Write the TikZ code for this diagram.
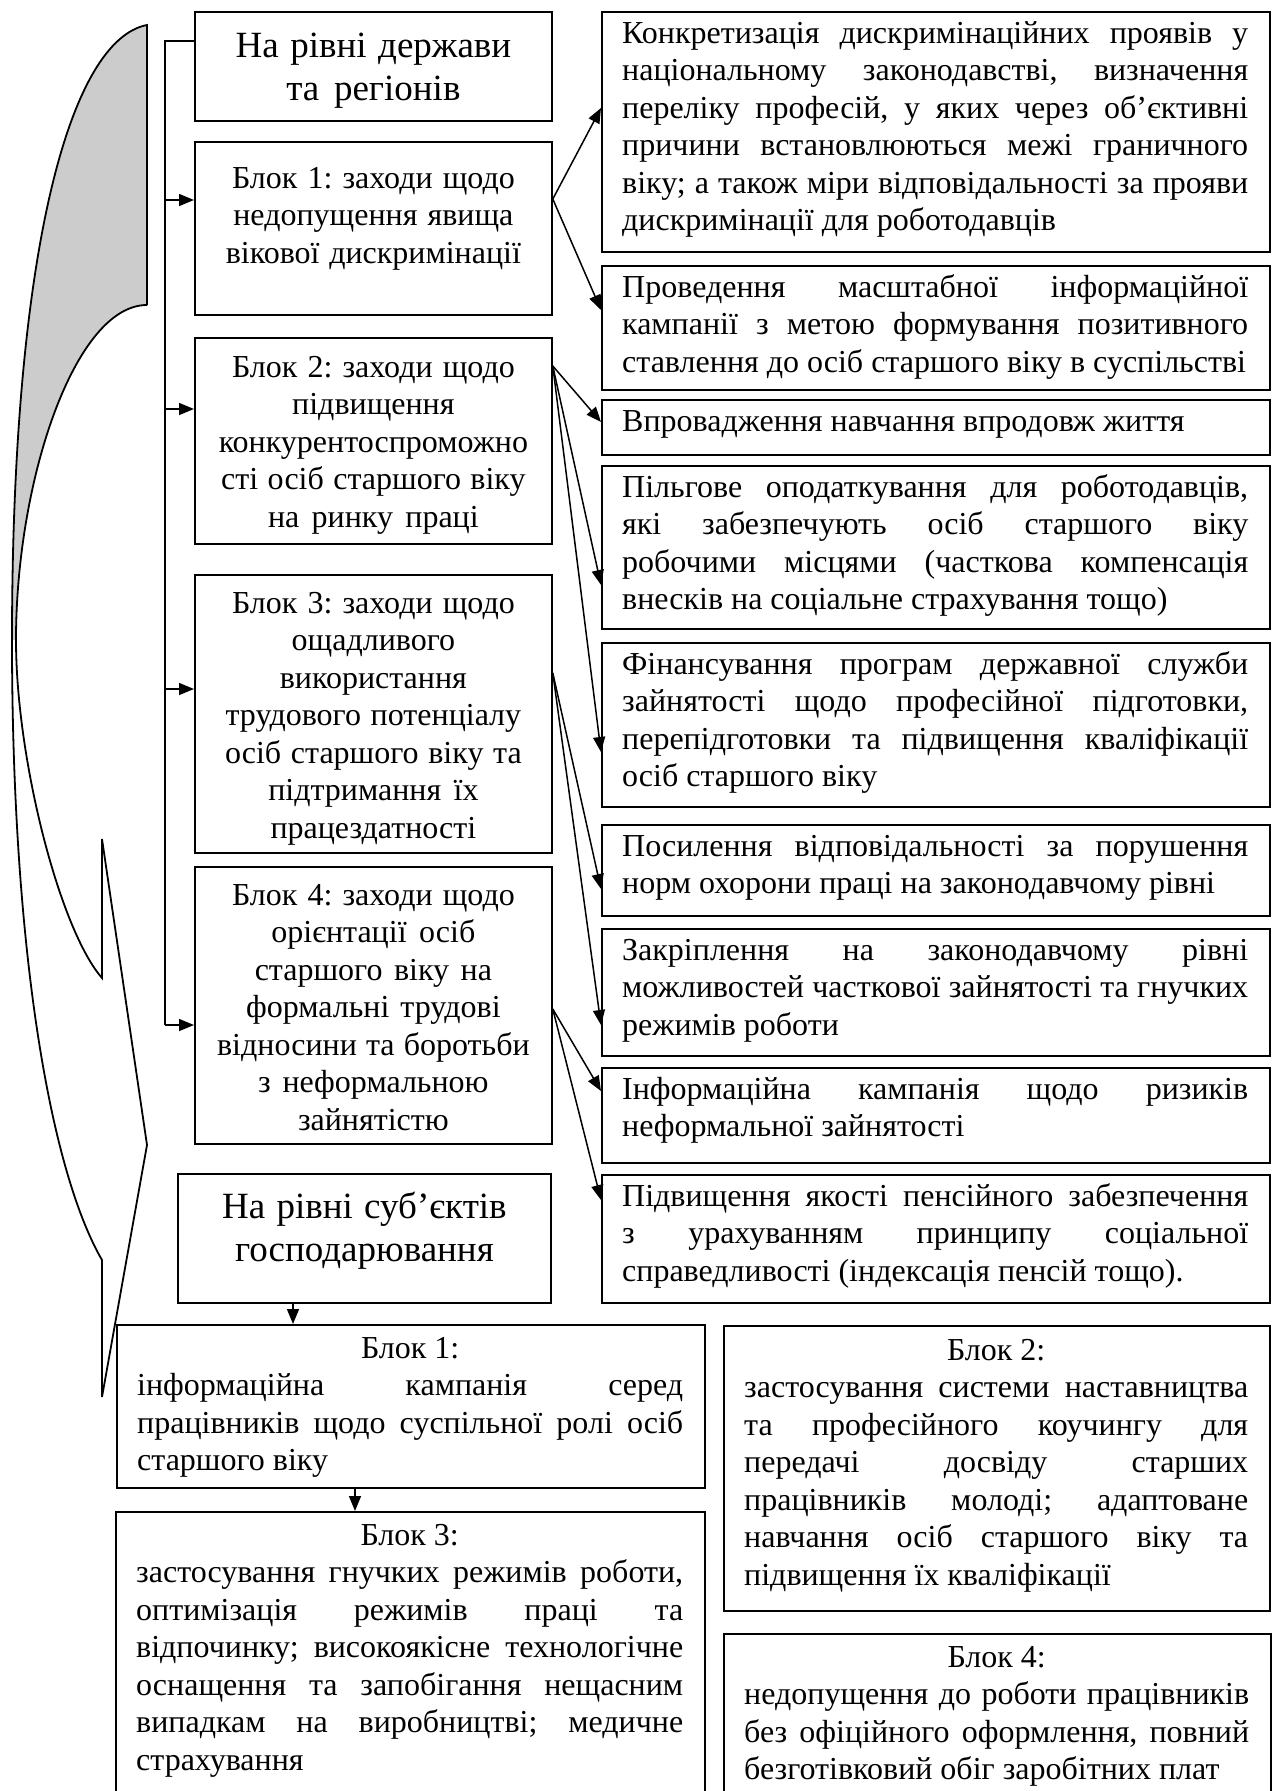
\documentclass[tikz,border=0pt]{standalone}
\usepackage{fontspec}
\setmainfont{Liberation Serif}
\usetikzlibrary{arrows.meta,calc}
\pgfdeclarelayer{bg}
\pgfsetlayers{bg,main}
\frenchspacing
\newcommand\sk{\spaceskip=0pt\relax\xspaceskip=0pt\relax\frenchspacing\strut}
\newcommand\jl[1]{\makebox[\hsize][s]{#1}}
\newcommand\cl[1]{\makebox[\hsize][c]{#1}}
\begin{document}
\begin{tikzpicture}[x=1pt,y=-1pt,
  box/.style={draw, line width=1.8pt, fill=white, inner sep=0pt, anchor=north west},
  conn/.style={line width=1.5pt},
  arr/.style={conn, -{Triangle[length=15pt,width=12pt]}},
  shp/.style={line width=1.8pt, line join=miter},
  rt/.style={anchor=north west, inner sep=0pt, text width=626pt, align=left, font=\fontsize{32}{37.5}\selectfont},
  bt/.style={rt, text width=#1},
  ct/.style={anchor=north, inner sep=0pt, text width=350pt, align=center, font=\fontsize{32}{37.5}\selectfont},
  ht/.style={ct, font=\fontsize{37}{43}\selectfont}]
\useasboundingbox (0,0) rectangle (1274,1791);
\fill[white] (0,0) rectangle (1274,1791);

% left curved arrow shape
\fill[black!20] (147,25) .. controls (70,40) and (12,250) .. (12,640) -- (16,640) .. controls (16,480) and (75,305) .. (147,305) -- cycle;
\draw[shp] (147,305) -- (147,25) .. controls (70,40) and (12,250) .. (12,640) .. controls (12,950) and (50,1170) .. (102,1260) -- (102,1397) -- (147,1145) -- (102,839) -- (102,978) .. controls (60,930) and (16,760) .. (16,640) .. controls (16,480) and (75,305) .. (147,305);

% left column
\node[box, minimum width=357pt, minimum height=109pt] (L0) at (194,11) {};
\node[box, minimum width=357pt, minimum height=173pt] (L1) at (194,141) {};
\node[box, minimum width=357pt, minimum height=206pt] (L2) at (194,337) {};
\node[box, minimum width=357pt, minimum height=278pt] (L3) at (194,574) {};
\node[box, minimum width=357pt, minimum height=277pt] (L4) at (194,866) {};
\node[box, minimum width=373pt, minimum height=129pt] (L5) at (177,1173) {};

\node[ht] (L0t) at ($(L0.north)+(0,15.9)$) {\sk На рівні держави\\та регіонів};
\node[ct] (L1t) at ($(L1.north)+(0,20.75)$) {\sk Блок 1: заходи щодо\\недопущення явища\\вікової дискримінації};
\node[ct] (L2t) at ($(L2.north)+(0,13.75)$) {\sk Блок 2: заходи щодо\\підвищення\\конкурентоспроможно\\сті осіб старшого віку\\на ринку праці};
\node[ct] (L3t) at ($(L3.north)+(0,12.75)$) {\sk Блок 3: заходи щодо\\ощадливого\\використання\\трудового потенціалу\\осіб старшого віку та\\підтримання їх\\працездатності};
\node[ct] (L4t) at ($(L4.north)+(0,12.75)$) {\sk Блок 4: заходи щодо\\орієнтації осіб\\старшого віку на\\формальні трудові\\відносини та боротьби\\з неформальною\\зайнятістю};
\node[ht] (L5t) at ($(L5.north)+(0,14.9)$) {\sk На рівні суб’єктів\\господарювання};

% right column
\node[box, minimum width=668pt, minimum height=240pt] (R1) at (601,11) {};
\node[box, minimum width=668pt, minimum height=124pt] (R2) at (601,265) {};
\node[box, minimum width=668pt, minimum height=55pt] (R3) at (601,399) {};
\node[box, minimum width=668pt, minimum height=163pt] (R4) at (601,465) {};
\node[box, minimum width=668pt, minimum height=164pt] (R5) at (601,642) {};
\node[box, minimum width=668pt, minimum height=91pt] (R6) at (601,824) {};
\node[box, minimum width=668pt, minimum height=127pt] (R7) at (601,928) {};
\node[box, minimum width=668pt, minimum height=95pt] (R8) at (601,1067) {};
\node[box, minimum width=668pt, minimum height=128pt] (R9) at (601,1174) {};

\node[rt] (R1t) at ($(R1.north west)+(21,5.75)$) {\sk\jl{Конкретизація дискримінаційних проявів у}\\\jl{національному законодавстві, визначення}\\\jl{переліку професій, у яких через об’єктивні}\\\jl{причини встановлюються межі граничного}\\\jl{віку; а також міри відповідальності за прояви}\\дискримінації для роботодавців};
\node[rt] (R2t) at ($(R2.north west)+(21,5.75)$) {\sk\jl{Проведення масштабної інформаційної}\\\jl{кампанії з метою формування позитивного}\\ставлення до осіб старшого віку в суспільстві};
\node[rt] (R3t) at ($(R3.north west)+(21,5.75)$) {\sk Впровадження навчання впродовж життя};
\node[rt] (R4t) at ($(R4.north west)+(21,5.75)$) {\sk\jl{Пільгове оподаткування для роботодавців,}\\\jl{які забезпечують осіб старшого віку}\\\jl{робочими місцями (часткова компенсація}\\внесків на соціальне страхування тощо)};
\node[rt] (R5t) at ($(R5.north west)+(21,5.75)$) {\sk\jl{Фінансування програм державної служби}\\\jl{зайнятості щодо професійної підготовки,}\\\jl{перепідготовки та підвищення кваліфікації}\\осіб старшого віку};
\node[rt] (R6t) at ($(R6.north west)+(21,5.75)$) {\sk\jl{Посилення відповідальності за порушення}\\норм охорони праці на законодавчому рівні};
\node[rt] (R7t) at ($(R7.north west)+(21,5.75)$) {\sk\jl{Закріплення на законодавчому рівні}\\\jl{можливостей часткової зайнятості та гнучких}\\режимів роботи};
\node[rt] (R8t) at ($(R8.north west)+(21,5.75)$) {\sk\jl{Інформаційна кампанія щодо ризиків}\\неформальної зайнятості};
\node[rt] (R9t) at ($(R9.north west)+(21,5.75)$) {\sk\jl{Підвищення якості пенсійного забезпечення}\\\jl{з урахуванням принципу соціальної}\\справедливості (індексація пенсій тощо).};

% bottom blocks
\node[box, minimum width=588pt, minimum height=163pt] (B1) at (116,1324) {};
\node[box, minimum width=546pt, minimum height=285pt] (B2) at (723,1325) {};
\node[box, minimum width=589pt, minimum height=292pt] (B3) at (115,1511) {};
\node[box, minimum width=547pt, minimum height=170pt] (B4) at (723,1633) {};

\node[bt=546pt] (B1t) at ($(B1.north west)+(21,7.75)$) {\sk\cl{Блок 1:}\\\jl{інформаційна кампанія серед}\\\jl{працівників щодо суспільної ролі осіб}\\старшого віку};
\node[bt=504pt] (B2t) at ($(B2.north west)+(21,8.75)$) {\sk\cl{Блок 2:}\\\jl{застосування системи наставництва}\\\jl{та професійного коучингу для}\\\jl{передачі досвіду старших}\\\jl{працівників молоді; адаптоване}\\\jl{навчання осіб старшого віку та}\\підвищення їх кваліфікації};
\node[bt=547pt] (B3t) at ($(B3.north west)+(21,7.75)$) {\sk\cl{Блок 3:}\\\jl{застосування гнучких режимів роботи,}\\\jl{оптимізація режимів праці та}\\\jl{відпочинку; високоякісне технологічне}\\\jl{оснащення та запобігання нещасним}\\\jl{випадкам на виробництві; медичне}\\страхування};
\node[bt=505pt] (B4t) at ($(B4.north west)+(21,7.75)$) {\sk\cl{Блок 4:}\\\jl{недопущення до роботи працівників}\\\jl{без офіційного оформлення, повний}\\безготівковий обіг заробітних плат};

% spine and arrows from the state level
\coordinate (sp) at (165,41);
\coordinate (spb) at (165,1025);
\draw[conn] (sp -| L0.west) -- (sp) -- (spb);
\draw[arr] (sp |- 0,200) -- (L1.west |- 0,200);
\draw[arr] (sp |- 0,409) -- (L2.west |- 0,409);
\draw[arr] (sp |- 0,689) -- (L3.west |- 0,689);
\draw[arr] (spb) -- (L4.west |- spb);

% arrows to the right column
\draw[arr] (L1.east |- 0,199) -- (R1.west |- 0,108);
\draw[arr] (L1.east |- 0,199) -- (R2.west |- 0,310);
\draw[arr] (L2.east |- 0,366) -- (R3.west |- 0,422);
\draw[arr] (L2.east |- 0,366) -- (R4.west |- 0,585);
\draw[arr] (L2.east |- 0,366) -- (R5.west |- 0,752);
\draw[arr] (L3.east |- 0,673) -- (R6.west |- 0,889);
\draw[arr] (L3.east |- 0,673) -- (R7.west |- 0,1025);
\draw[arr] (L4.east |- 0,1009) -- (R8.west |- 0,1091);
\draw[arr] (L4.east |- 0,1009) -- (R9.west |- 0,1200);

% arrows from the enterprise level
\draw[arr] (L5.south -| 293,0) -- (B1.north -| 293,0);
\draw[arr] (B1.south -| 355,0) -- (B3.north -| 355,0);
\begin{pgfonlayer}{bg}
\draw[conn] (L5.south -| 355,0) -- (B3.north -| 355,0);
\draw[arr] (L5.south -| 436,0) -- (B4.north -| 873,0);
\draw[arr] (L5.east |- 0,1292) -- (B2.west |- 0,1337);
\end{pgfonlayer}
\end{tikzpicture}
\end{document}
